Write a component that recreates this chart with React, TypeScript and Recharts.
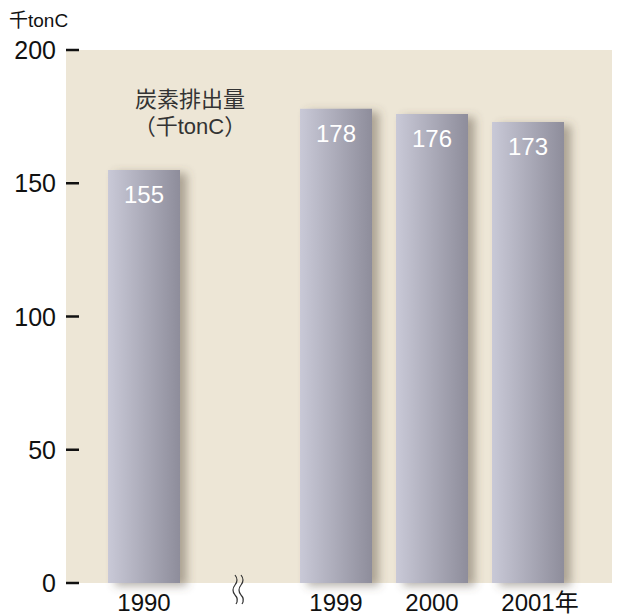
import React from 'react';
import { BarChart, Bar, XAxis, YAxis, CartesianGrid, LabelList } from 'recharts';

const years = ['1990', '', '1999', '2000', '2001'];
const emissions = [155, null, 178, 176, 173];
const yTicks = [0, 50, 100, 150, 200];

const data = years.map((year, i) => ({ year, value: emissions[i] }));

const FONT = '"Liberation Sans", Arial, "Noto Sans CJK JP", sans-serif';

const YTick = (props: any) => {
  const { x, y, payload } = props;
  return (
    <g>
      <text x={x - 2} y={y} dy={9} textAnchor="end" fontSize={25} fill="#111" fontFamily={FONT}>
        {payload.value}
      </text>
      <line x1={x + 8} x2={x + 21} y1={y} y2={y} stroke="#111" strokeWidth={2.5} />
    </g>
  );
};

const XTick = (props: any) => {
  const { x, y, payload } = props;
  if (payload.value === '') {
    // axis break mark
    const wave = (dx: number) =>
      `M${x + dx - 2},${y - 16} q4,5 0,10 q-4,5 0,10 q4,4 1,9`;
    return (
      <g>
        <path d={wave(-3)} fill="none" stroke="#333" strokeWidth={1.2} />
        <path d={wave(3)} fill="none" stroke="#333" strokeWidth={1.2} />
      </g>
    );
  }
  const label = payload.value === '2001' ? '2001年' : payload.value;
  return (
    <text x={x} y={y} dy={20} textAnchor="middle" fontSize={24} fill="#111" fontFamily={FONT}
      dx={payload.value === '2001' ? 12 : 0}>
      {label}
    </text>
  );
};

export default function App() {
  return (
    <div style={{ position: 'absolute', left: 0, top: 0, width: 626, height: 616, background: '#fff', fontFamily: FONT }}>
      <div style={{ position: 'absolute', left: 9, top: 5, fontSize: 19, color: '#111' }}>千tonC</div>
      <div style={{ position: 'absolute', left: 110, top: 86, width: 160, textAlign: 'center', fontSize: 22, lineHeight: '27px', color: '#333', zIndex: 2 }}>
        炭素排出量<br />（千tonC）
      </div>
      <BarChart width={626} height={616} data={data} margin={{ top: 50, right: 14, bottom: 0, left: 0 }} barSize={72}>
        <defs>
          <linearGradient id="barFill" x1="0" y1="0" x2="1" y2="0">
            <stop offset="0%" stopColor="#c9c9d7" />
            <stop offset="100%" stopColor="#8e8d9b" />
          </linearGradient>
          <filter id="barShadow" x="-20%" y="-10%" width="160%" height="130%">
            <feDropShadow dx="7" dy="3" stdDeviation="5" floodColor="#5a5040" floodOpacity="0.45" />
          </filter>
          <filter id="bgShadow" x="-5%" y="-5%" width="115%" height="115%">
            <feDropShadow dx="6" dy="6" stdDeviation="5" floodColor="#000" floodOpacity="0.35" />
          </filter>
        </defs>
        <CartesianGrid horizontal={false} vertical={false} fill="#ede6d6" filter="url(#bgShadow)" />
        <XAxis dataKey="year" axisLine={false} tickLine={false} height={33} interval={0}
          padding={{ left: 30, right: 36 }} tick={<XTick />} />
        <YAxis domain={[0, 200]} ticks={yTicks} width={66} axisLine={false} tickLine={false} tick={<YTick />} />
        <Bar dataKey="value" fill="url(#barFill)" filter="url(#barShadow)" isAnimationActive={false}>
          <LabelList dataKey="value" position="insideTop" offset={16} fill="#fff" fontSize={24} fontFamily={FONT} />
        </Bar>
      </BarChart>
    </div>
  );
}
